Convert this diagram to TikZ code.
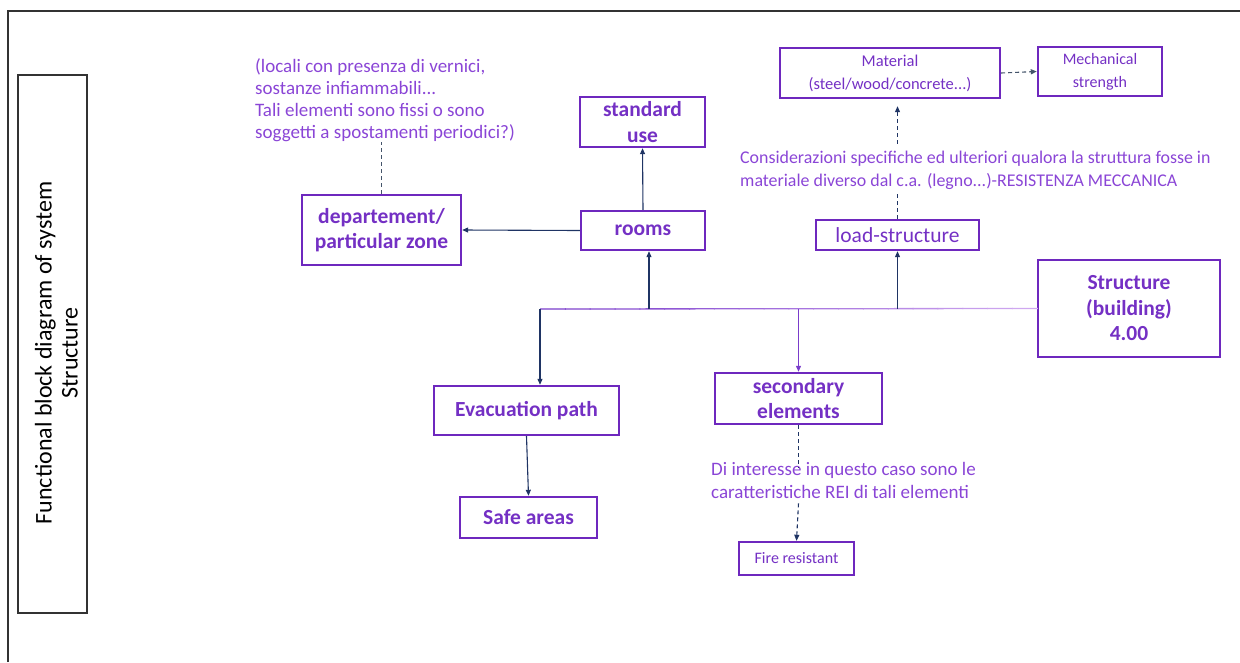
\documentclass[tikz,border=0pt]{standalone}
\usepackage{fontspec}
\setmainfont{Carlito}
\usetikzlibrary{arrows.meta,calc}

\definecolor{boxline}{HTML}{6E28BE}
\definecolor{boxtext}{HTML}{7430C4}
\definecolor{notetext}{HTML}{8A45D6}
\definecolor{navy}{HTML}{1F3464}
\definecolor{dashgrey}{HTML}{44546A}
\definecolor{trunkdark}{HTML}{7A3CCB}
\definecolor{trunklight}{HTML}{D4AEF2}

\tikzset{
  block/.style={draw=boxline, line width=2.4pt, inner sep=0pt, align=center,
    text=boxtext, font=\fontsize{21.5}{25.5}\selectfont\bfseries},
  plainblock/.style={block, font=\fontsize{16.5}{23}\selectfont},
  note/.style={inner sep=0pt, align=left, anchor=west, text=notetext},
  link/.style={draw=navy, line width=1.1pt, -{Triangle[length=6pt,width=5pt]}},
  purplelink/.style={draw=trunkdark, line width=1.1pt, -{Triangle[length=6pt,width=5pt]}},
  dashlink/.style={draw=navy, line width=1.1pt, dash pattern=on 4pt off 3pt,
    -{Triangle[length=6pt,width=5pt]}},
  dashplain/.style={draw=dashgrey, line width=1.1pt, dash pattern=on 4pt off 3pt},
}

\begin{document}
\begin{tikzpicture}[x=1pt,y=-1pt]
\useasboundingbox (0,0) rectangle (1240,662);

% sheet frame (top and left edges)
\draw[line width=1.2pt, black!80] (8,662) -- (8,11) -- (1240,11);

% title strip
\node[draw=black!80, line width=1.2pt, minimum width=69pt, minimum height=538pt,
  inner sep=0pt] (title) at (52.5,344) {};
\node[rotate=90, align=center, font=\fontsize{24}{26}\selectfont] (titletext)
  at ([xshift=4pt,yshift=-9pt]title.center) {Functional block diagram of system\\Structure};

% blocks
\node[block, minimum width=182pt, minimum height=97pt] (struct) at (1129,308.5)
  {Structure\\(building)\\4.00};
\node[block, minimum width=124pt, minimum height=39pt] (rooms) at (643,230.5) {rooms};
\node[block, minimum width=125pt, minimum height=50pt] (std) at (642.5,122) {standard\\use};
\node[block, minimum width=159pt, minimum height=70pt] (dept) at (381.5,230)
  {departement/\\particular zone};
\node[block, font=\fontsize{21.5}{24}\selectfont, minimum width=163pt, minimum height=30pt]
  (load) at (897.5,235) {load-structure};
\node[plainblock, minimum width=220pt, minimum height=50pt] (mat) at (890,73)
  {Material\\(steel/wood/concrete...)};
\node[plainblock, font=\fontsize{16}{23}\selectfont, minimum width=124pt,
  minimum height=49pt] (mech) at (1100,71.5) {Mechanical\\strength};
\node[block, minimum width=185pt, minimum height=49pt] (evac) at (526.5,410.5)
  {Evacuation path};
\node[block, minimum width=137pt, minimum height=41pt] (safe) at (528.5,517.5)
  {Safe areas};
\node[block, minimum width=167pt, minimum height=51pt] (sec) at (798.5,398.5)
  {secondary\\elements};
\node[plainblock, font=\fontsize{16}{18}\selectfont, minimum width=115pt,
  minimum height=33pt] (fire) at (796.5,558.5) {Fire resistant};

% notes
\node[note, font=\fontsize{19}{22}\selectfont] (note1) at (255,100)
  {(locali con presenza di vernici,\\sostanze infiammabili...\\Tali elementi sono fissi o sono\\soggetti a spostamenti periodici?)};
\node[note, font=\fontsize{17.9}{23}\selectfont] (note2) at (740,170)
  {Considerazioni specifiche ed ulteriori qualora la struttura fosse in\\materiale diverso dal c.a. (legno...)-RESISTENZA MECCANICA};
\node[note, font=\fontsize{19}{23}\selectfont] (note3) at (711,480)
  {Di interesse in questo caso sono le\\caratteristiche REI di tali elementi};

% main trunk leaving the structure block, fading towards the block
\coordinate (tl) at (540,309);
\foreach \i in {0,...,19}{
  \pgfmathsetmacro{\mix}{100-\i*5}
  \draw[line width=1.3pt, color=trunkdark!\mix!trunklight]
    ($(tl)!\i/20!(struct.west)$) -- ($(tl)!\i/20+0.052!(struct.west)$);
}

% branches from the trunk
\draw[link] ([xshift=6pt]tl -| rooms.south) -- ([xshift=6pt]rooms.south);
\draw[link] (tl -| load.south) -- (load.south);
\draw[link] (tl) -- (evac.north -| tl);
\draw[purplelink] (tl -| sec.north) -- (sec.north);

% other connectors
\draw[link] (rooms.north) -- (std.south);
\draw[link] (rooms.west) -- (dept.east);
\draw[link] (evac.south) -- (safe.north);
\draw[dashplain] (dept.north) -- (dept.north |- note1.south);
\draw[dashlink, draw=dashgrey] (mat.east) -- (mech.west);
\draw[dashlink, arrows=-] (load.north) -- ([yshift=-2pt]load.north |- note2.south);
\draw[dashlink] ([yshift=7pt]load.north |- note2.north) -- ([yshift=-7pt]load.north |- mat.south);
\draw[dashlink, arrows=-] (sec.south) -- ([yshift=-6pt]sec.south |- note3.north);
\draw[dashlink] ([yshift=-5pt]sec.south |- note3.south) -- (fire.north);
\end{tikzpicture}
\end{document}
